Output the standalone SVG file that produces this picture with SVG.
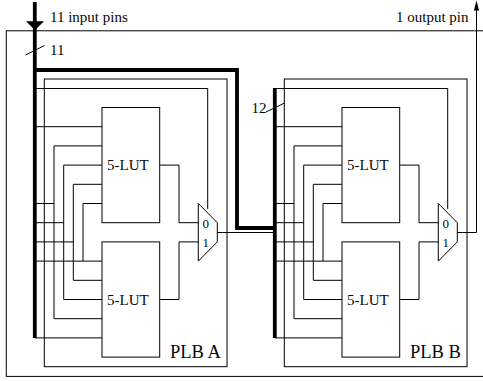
<svg xmlns="http://www.w3.org/2000/svg" width="483" height="381" viewBox="0 0 483 381">
<defs>
<style>
text{font-family:"Liberation Serif","Times New Roman",serif;fill:#000;font-size:15px;opacity:.97}
.l{fill:none;stroke:#000;stroke-width:1}
.t{fill:none;stroke:#000;stroke-width:3.8}
.b{fill:#fff;stroke:#000;stroke-width:1}
.plb{font-size:18.5px}
.m{font-size:13px}
</style>
</defs>
<rect width="483" height="381" fill="#fff"/>
<rect id="chip" class="l" x="6.3" y="30.8" width="480" height="345.6"/>
<g id="plb-a">
<rect class="l" x="44.3" y="79" width="182.7" height="287.7"/>
<rect class="l" x="102" y="107.5" width="57.7" height="115.2"/>
<rect class="l" x="102" y="241.9" width="57.7" height="115.2"/>
<path class="l" d="M35 88.5H207.7V209M35 126.7H102M54 318.7V145.9H102M63.7 299.5V165.1H102M73.3 280.3V184.3H102M83 261.1V203.5H102M35 203.5H54M35 222.7H63.7M35 241.9H73.3M35 261.1H102M73.3 280.3H102M63.7 299.5H102M54 318.7H102M35 337.9H102M159.7 165.1H179V222.7H198.3M159.7 299.5H179V241.9H198.3M83 299.5H87"/>
<path class="l" d="M198.3 203.5L217.3 222.7V241.9L198.3 261.1Z"/>
<text x="107" y="170">5-LUT</text><text x="107" y="304.500">5-LUT</text>
<text class="m" x="202.500" y="228">0</text><text class="m" x="202.500" y="247">1</text>
<text class="plb" x="170" y="358">PLB A</text>
</g>
<g id="plb-b">
<rect class="l" x="284.3" y="79" width="182.7" height="287.7"/>
<rect class="l" x="342" y="107.5" width="57.7" height="115.2"/>
<rect class="l" x="342" y="241.9" width="57.7" height="115.2"/>
<path class="l" d="M275 88.500H447.7V209M275 126.7H342M294 318.7V145.9H342M303.7 299.5V165.1H342M313.3 280.3V184.3H342M323 261.1V203.5H342M275 203.5H294M275 222.7H303.7M275 241.9H313.3M275 261.1H342M313.3 280.3H342M303.7 299.5H342M294 318.7H342M275 337.9H342M399.7 165.1H419V222.7H438.3M399.7 299.5H419V241.9H438.3M323 299.5H327"/>
<path class="l" d="M438.3 203.5L457.3 222.7V241.900L438.3 261.1Z"/>
<text x="347" y="170">5-LUT</text><text x="347" y="304.500">5-LUT</text>
<text class="m" x="442.500" y="228">0</text><text class="m" x="442.500" y="247">1</text>
<text class="plb" x="410" y="358">PLB B</text>
</g>
<g id="connectors">
<path class="t" d="M34.800 2V338"/>
<path d="M26 21.300H44L35 30.300Z" fill="#000"/>
<path class="t" d="M35 70H237V228H275"/>
<path class="t" d="M274.800 88V338"/>
<path class="l" d="M217.300 232.500H275M457.300 232.500H476.500V8"/>
<path d="M476.500 .5L473.900 10.500H479.100Z" fill="#000"/>
<path class="l" d="M25.500 55L44.500 45.500M266 112L284.500 103"/>
</g>
<text x="50" y="21.500">11 input pins</text>
<text x="50" y="55">11</text>
<text x="251.500" y="113">12</text>
<text x="396" y="21.500">1 output pin</text>
</svg>
